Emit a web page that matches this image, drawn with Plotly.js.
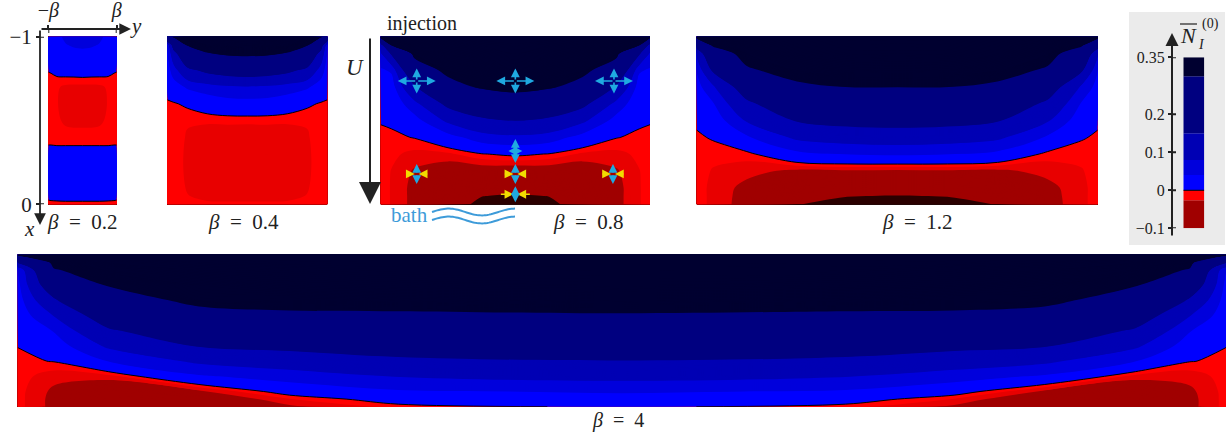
<!DOCTYPE html>
<html><head><meta charset="utf-8">
<script src="https://cdn.plot.ly/plotly-3.0.1.min.js"></script>
<style>html,body{margin:0;padding:0;background:#fff}#chart{width:1228px;height:434px}</style>
</head><body><div id="chart"></div>
<script>
// ---------------- DATA ----------------
// depth rows x (top = -1 injection, bottom = 0 bath)
const rowsX = [-1, -0.95, -0.9, -0.8, -0.7, -0.6, -0.5, -0.4, -0.3, -0.2, -0.1, -0.05, 0];

// transverse coordinate y of each panel (from -beta to beta)
const yB02 = [-0.2, -0.184, -0.15, -0.1, -0.05, 0, 0.05, 0.1, 0.15, 0.184, 0.2];
const yB04 = [-0.4, -0.368, -0.3, -0.2, -0.1, 0, 0.1, 0.2, 0.3, 0.368, 0.4];
const yB08 = [-0.8, -0.736, -0.6, -0.4, -0.2, 0, 0.2, 0.4, 0.6, 0.736, 0.8];
const yB12 = [-1.2, -1.104, -0.9, -0.6, -0.3, 0, 0.3, 0.6, 0.9, 1.104, 1.2];
const yB4  = [-4, -3.76, -3.4, -2.8, -2.2, -1.48, 0, 1.48, 2.2, 2.8, 3.4, 3.76, 4];

// N_I^(0) estimated on each grid (rows = rowsX, columns = y)
const zB02 = [
 [0.025,0.03,0.036,0.043,0.046,0.047,0.046,0.043,0.036,0.03,0.025],
 [0.022,0.027,0.033,0.039,0.042,0.043,0.042,0.039,0.033,0.027,0.022],
 [0.017,0.021,0.027,0.032,0.035,0.036,0.035,0.032,0.027,0.021,0.017],
 [0.001,0.002,0.006,0.01,0.011,0.012,0.011,0.01,0.006,0.002,0.001],
 [-0.008,-0.009,-0.01,-0.015,-0.016,-0.016,-0.016,-0.015,-0.01,-0.009,-0.008],
 [-0.01,-0.0105,-0.011,-0.018,-0.02,-0.02,-0.02,-0.018,-0.011,-0.0105,-0.01],
 [-0.009,-0.01,-0.01,-0.014,-0.015,-0.015,-0.015,-0.014,-0.01,-0.01,-0.009],
 [-0.006,-0.006,-0.007,-0.008,-0.008,-0.008,-0.008,-0.008,-0.007,-0.006,-0.006],
 [0.007,0.007,0.007,0.008,0.008,0.008,0.008,0.008,0.007,0.007,0.007],
 [0.016,0.017,0.018,0.019,0.02,0.02,0.02,0.019,0.018,0.017,0.016],
 [0.011,0.012,0.013,0.014,0.015,0.015,0.015,0.014,0.013,0.012,0.011],
 [0.004,0.005,0.006,0.007,0.007,0.007,0.007,0.007,0.006,0.005,0.004],
 [-0.004,-0.004,-0.004,-0.004,-0.004,-0.004,-0.004,-0.004,-0.004,-0.004,-0.004]
];
const zB04 = [
 [0.29,0.31,0.35,0.36,0.37,0.37,0.37,0.36,0.35,0.31,0.29],
 [0.045,0.2,0.305,0.345,0.355,0.36,0.355,0.345,0.305,0.2,0.045],
 [0.035,0.12,0.25,0.295,0.315,0.32,0.315,0.295,0.25,0.12,0.035],
 [0.022,0.06,0.13,0.17,0.19,0.2,0.19,0.17,0.13,0.06,0.022],
 [0.01,0.022,0.045,0.06,0.072,0.076,0.072,0.06,0.045,0.022,0.01],
 [-0.003,-0.002,0.004,0.015,0.023,0.025,0.023,0.015,0.004,-0.002,-0.003],
 [-0.004,-0.006,-0.011,-0.01,-0.009,-0.009,-0.009,-0.01,-0.011,-0.006,-0.004],
 [-0.005,-0.007,-0.013,-0.019,-0.021,-0.022,-0.021,-0.019,-0.013,-0.007,-0.005],
 [-0.005,-0.007,-0.014,-0.02,-0.022,-0.022,-0.022,-0.02,-0.014,-0.007,-0.005],
 [-0.005,-0.007,-0.014,-0.02,-0.021,-0.021,-0.021,-0.02,-0.014,-0.007,-0.005],
 [-0.005,-0.006,-0.013,-0.018,-0.019,-0.019,-0.019,-0.018,-0.013,-0.006,-0.005],
 [-0.005,-0.006,-0.0115,-0.015,-0.016,-0.016,-0.016,-0.015,-0.0115,-0.006,-0.005],
 [-0.004,-0.005,-0.008,-0.01,-0.01,-0.01,-0.01,-0.01,-0.008,-0.005,-0.004]
];
const zB08 = [
 [0.33,0.33,0.34,0.36,0.37,0.37,0.37,0.36,0.34,0.33,0.33],
 [0.12,0.305,0.33,0.35,0.36,0.365,0.36,0.35,0.33,0.305,0.12],
 [0.075,0.16,0.32,0.34,0.35,0.36,0.35,0.34,0.32,0.16,0.075],
 [0.035,0.045,0.25,0.32,0.33,0.35,0.33,0.32,0.25,0.045,0.035],
 [0.02,0.022,0.14,0.27,0.31,0.33,0.31,0.27,0.14,0.022,0.02],
 [0.01,0.012,0.065,0.17,0.22,0.24,0.22,0.17,0.065,0.012,0.01],
 [0.001,0.004,0.025,0.09,0.135,0.151,0.135,0.09,0.025,0.004,0.001],
 [-0.003,-0.004,0.001,0.025,0.06,0.07,0.06,0.025,0.001,-0.004,-0.003],
 [-0.005,-0.009,-0.016,-0.015,-0.001,0.005,-0.001,-0.015,-0.016,-0.009,-0.005],
 [-0.006,-0.0125,-0.028,-0.04,-0.038,-0.04,-0.038,-0.04,-0.028,-0.0125,-0.006],
 [-0.006,-0.013,-0.032,-0.065,-0.077,-0.08,-0.077,-0.065,-0.032,-0.013,-0.006],
 [-0.006,-0.013,-0.032,-0.075,-0.099,-0.105,-0.099,-0.075,-0.032,-0.013,-0.006],
 [-0.006,-0.013,-0.032,-0.08,-0.11,-0.115,-0.11,-0.08,-0.032,-0.013,-0.006]
];
const zB12 = [
 [0.33,0.33,0.35,0.36,0.37,0.37,0.37,0.36,0.35,0.33,0.33],
 [0.2,0.31,0.34,0.355,0.365,0.365,0.365,0.355,0.34,0.31,0.2],
 [0.09,0.25,0.33,0.35,0.36,0.36,0.36,0.35,0.33,0.25,0.09],
 [0.042,0.16,0.29,0.33,0.34,0.34,0.34,0.33,0.29,0.16,0.042],
 [0.026,0.07,0.2,0.285,0.301,0.301,0.301,0.285,0.2,0.07,0.026],
 [0.016,0.036,0.135,0.215,0.235,0.24,0.235,0.215,0.135,0.036,0.016],
 [0.004,0.015,0.085,0.155,0.175,0.18,0.175,0.155,0.085,0.015,0.004],
 [-0.003,0.002,0.035,0.09,0.105,0.11,0.105,0.09,0.035,0.002,-0.003],
 [-0.004,-0.008,-0.006,0.03,0.041,0.045,0.041,0.03,-0.006,-0.008,-0.004],
 [-0.006,-0.013,-0.02,-0.03,-0.028,-0.03,-0.028,-0.03,-0.02,-0.013,-0.006],
 [-0.007,-0.015,-0.032,-0.075,-0.078,-0.08,-0.078,-0.075,-0.032,-0.015,-0.007],
 [-0.007,-0.015,-0.034,-0.092,-0.099,-0.101,-0.099,-0.092,-0.034,-0.015,-0.007],
 [-0.007,-0.015,-0.035,-0.099,-0.108,-0.11,-0.108,-0.099,-0.035,-0.015,-0.007]
];
const zB4 = [
 [0.32,0.34,0.36,0.365,0.37,0.37,0.37,0.37,0.37,0.365,0.36,0.34,0.32],
 [0.16,0.32,0.35,0.36,0.365,0.365,0.365,0.365,0.365,0.36,0.35,0.32,0.16],
 [0.036,0.295,0.335,0.35,0.355,0.36,0.36,0.36,0.355,0.35,0.335,0.295,0.036],
 [0.028,0.22,0.305,0.33,0.34,0.345,0.35,0.345,0.34,0.33,0.305,0.22,0.028],
 [0.022,0.14,0.26,0.32,0.32,0.325,0.33,0.325,0.32,0.32,0.26,0.14,0.022],
 [0.016,0.082,0.2,0.27,0.29,0.29,0.295,0.29,0.29,0.27,0.2,0.082,0.016],
 [0.01,0.042,0.14,0.21,0.23,0.245,0.25,0.245,0.23,0.21,0.14,0.042,0.01],
 [0.0005,0.02,0.088,0.155,0.17,0.19,0.2,0.19,0.17,0.155,0.088,0.02,0.0005],
 [-0.004,0.001,0.041,0.09,0.11,0.135,0.148,0.135,0.11,0.09,0.041,0.001,-0.004],
 [-0.006,-0.02,-0.018,0.035,0.058,0.082,0.095,0.082,0.058,0.035,-0.018,-0.02,-0.006],
 [-0.007,-0.03,-0.05,-0.03,0.012,0.035,0.045,0.035,0.012,-0.03,-0.05,-0.03,-0.007],
 [-0.007,-0.032,-0.058,-0.05,-0.013,0.012,0.022,0.012,-0.013,-0.05,-0.058,-0.032,-0.007],
 [-0.007,-0.032,-0.06,-0.06,-0.03,-0.006,0.003,-0.006,-0.03,-0.06,-0.06,-0.032,-0.007]
];

// contour levels and fill colours
const levelEdges = [-0.1, -0.026, -0.012, 0, 0.04, 0.08, 0.15, 0.3];
const bandColors = ['#2b0000','#a00000','#e80000','#ff0000','#0000ff','#0000dc','#0000b4','#000080','#000030'];

// colour bar
const cbEdges  = [-0.1, -0.026, 0, 0.04, 0.08, 0.15, 0.3, 0.35];
const cbColors = ['#a00000','#ff0000','#0000ff','#0000dc','#0000b4','#000080','#000030'];
const cbTicks  = [-0.1, 0, 0.1, 0.2, 0.35];
const cbTickText = ['\u22120.1','0','0.1','0.2','0.35'];

const betaLabels = ['0.2','0.4','0.8','1.2','4'];

// ---------------- LAYOUT HELPERS ----------------
const W = 1228, H = 434;
const px = v => v / W, py = v => 1 - v / H;
const FONT = '"Liberation Serif", "Times New Roman", Times, serif';
const INK = '#222';

const C0 = -0.2, C1 = 0.4, CS = 0.002;
const NC = Math.floor((C1 + CS * 1e-6 - C0) / CS) + 1;
const zLo = C0 - CS, zHi = zLo + NC * CS;
const frac = z => Math.min(1, Math.max(0, (z - zLo) / (zHi - zLo)));
const colorscale = [];
for (let i = 0; i < bandColors.length; i++) {
  const lo = i === 0 ? zLo : levelEdges[i - 1];
  const hi = i === bandColors.length - 1 ? zHi : levelEdges[i];
  colorscale.push([i === 0 ? 0 : frac(lo), bandColors[i]]);
  colorscale.push([i === bandColors.length - 1 ? 1 : frac(hi), bandColors[i]]);
}

const panels = [
  {y: yB02, z: zB02, beta: 0.2, xd: [48.3, 116.7], yd: [36.7, 204.3]},
  {y: yB04, z: zB04, beta: 0.4, xd: [167.3, 327.3], yd: [36.7, 204.3]},
  {y: yB08, z: zB08, beta: 0.8, xd: [380.7, 650], yd: [36.7, 204.3]},
  {y: yB12, z: zB12, beta: 1.2, xd: [696.7, 1097.7], yd: [36.7, 204.3]},
  {y: yB4,  z: zB4,  beta: 4,   xd: [17.7, 1226], yd: [254.7, 406.7]}
];

const data = [];
const layout = {
  width: W, height: H, margin: {l: 0, r: 0, t: 0, b: 0},
  paper_bgcolor: '#fff', plot_bgcolor: 'rgba(0,0,0,0)',
  showlegend: false, barmode: 'overlay',
  shapes: [], annotations: []
};

panels.forEach((p, i) => {
  const n = i === 0 ? '' : String(i + 1);
  const xa = 'x' + n, ya = 'y' + n;
  data.push({
    type: 'contour', x: p.y, y: rowsX, z: p.z, xaxis: xa, yaxis: ya,
    autocontour: false, contours: {start: C0, end: C1, size: CS, coloring: 'fill', showlines: false},
    colorscale: colorscale, showscale: false, line: {width: 0, smoothing: 1}, hoverinfo: 'skip'
  });
  data.push({
    type: 'contour', x: p.y, y: rowsX, z: p.z, xaxis: xa, yaxis: ya,
    autocontour: false, contours: {start: 0, end: 0, size: 1, coloring: 'none'},
    showscale: false, line: {color: '#000', width: 1, smoothing: 1}, hoverinfo: 'skip'
  });
  const xaxis = {domain: [px(p.xd[0]), px(p.xd[1])], range: [-p.beta, p.beta], anchor: ya,
    showgrid: false, zeroline: false, showline: false, showticklabels: false, ticks: '', fixedrange: true};
  const yaxis = {domain: [py(p.yd[1]), py(p.yd[0])], range: [0, -1], anchor: xa,
    showgrid: false, zeroline: false, showline: false, showticklabels: false, ticks: '', fixedrange: true};
  if (i === 0) {
    Object.assign(xaxis, {anchor: 'free', position: py(29), side: 'top', showticklabels: true,
      ticks: 'outside', ticklen: 4, tickwidth: 2, tickcolor: INK,
      tickvals: [-p.beta, p.beta], ticktext: ['\u2212<i>\u03b2</i>', '<i>\u03b2</i>'],
      tickfont: {family: FONT, size: 20, color: INK}});
    Object.assign(yaxis, {anchor: 'free', position: px(40), side: 'left', showticklabels: true,
      ticks: 'outside', ticklen: 4, tickwidth: 2, tickcolor: INK,
      tickvals: [-1, 0], ticktext: ['\u22121', '0'],
      tickfont: {family: FONT, size: 21, color: INK}});
  }
  layout['xaxis' + n] = xaxis;
  layout['yaxis' + n] = yaxis;
});

// colour bar as stacked bars
data.push({
  type: 'bar', xaxis: 'x6', yaxis: 'y6',
  x: cbColors.map(() => 0), base: cbEdges.slice(0, -1),
  y: cbEdges.slice(1).map((e, i) => e - cbEdges[i]),
  width: 1, marker: {color: cbColors, line: {width: 0}}, hoverinfo: 'skip'
});
layout.xaxis6 = {domain: [px(1183.3), px(1204.3)], range: [-0.5, 0.5], anchor: 'y6', visible: false, fixedrange: true};
layout.yaxis6 = {domain: [py(228.3), py(57.3)], range: [-0.1, 0.35], anchor: 'free', position: px(1172), side: 'left',
  showgrid: false, zeroline: false, showline: false, ticks: 'outside', ticklen: 4, tickwidth: 2, tickcolor: INK,
  tickvals: cbTicks, ticktext: cbTickText, tickfont: {family: FONT, size: 16, color: INK}, fixedrange: true};

// ---------------- DECORATIONS ----------------
const S = layout.shapes, A = layout.annotations;
S.push({type: 'rect', xref: 'paper', yref: 'paper', x0: px(1129), x1: px(1225), y0: py(245), y1: py(12),
  fillcolor: '#ebebeb', line: {width: 0}, layer: 'below'});
S.push({type: 'line', xref: 'x6', yref: 'y6', x0: -0.5, x1: 0.5, y0: 0, y1: 0, line: {color: '#000', width: 1}});
cbTicks.forEach(v => S.push({type: 'line', xref: 'paper', yref: 'y6', x0: px(1172), x1: px(1176), y0: v, y1: v,
  line: {color: INK, width: 2}}));
[-1, 0].forEach(v => S.push({type: 'line', xref: 'paper', yref: 'y', x0: px(40), x1: px(44), y0: v, y1: v, line: {color: INK, width: 2}}));
[-0.2, 0.2].forEach(v => S.push({type: 'line', xref: 'x', yref: 'paper', x0: v, x1: v, y0: py(29), y1: py(33), line: {color: INK, width: 2}}));
// overline of N
S.push({type: 'line', xref: 'paper', yref: 'paper', x0: px(1180), x1: px(1197), y0: py(24), y1: py(24), line: {color: INK, width: 1.2}});
// bath waves
function wave(x0, x1, yc, amp, periods) {
  let d = '';
  for (let i = 0; i <= 48; i++) {
    const t = i / 48;
    d += (i ? 'L' : 'M') + px(x0 + (x1 - x0) * t).toFixed(5) + ',' + py(yc - amp * Math.sin(2 * Math.PI * periods * t)).toFixed(5);
  }
  return d;
}
[212, 220].forEach(yc => S.push({type: 'path', xref: 'paper', yref: 'paper', path: wave(432, 515, yc, 3.4, 1.25),
  line: {color: '#3d9bd9', width: 2}}));

function txt(text, x, y, size, extra) {
  A.push(Object.assign({text: text, xref: 'paper', yref: 'paper', x: px(x), y: py(y), showarrow: false,
    xanchor: 'center', yanchor: 'middle', font: {family: FONT, size: size, color: INK}}, extra || {}));
}
function arrow(xt, yt, dx, dy, color, w, s, head) {
  A.push({text: '', xref: 'paper', yref: 'paper', x: px(xt), y: py(yt), ax: dx, ay: dy, axref: 'pixel', ayref: 'pixel',
    showarrow: true, arrowhead: head || 2, arrowsize: s, arrowwidth: w, arrowcolor: color, standoff: 0, startstandoff: 0});
}
// beta labels
const labelPos = [[82.5, 222], [243, 222], [588, 222], [917, 222], [618.5, 420]];
betaLabels.forEach((b, i) => txt('<i>\u03b2</i>\u2002=\u2002' + b, labelPos[i][0], labelPos[i][1], i === 4 ? 20 : 21));
txt('injection', 422, 24, 20);
txt('<i>U</i>', 355, 67, 23);
txt('bath', 409, 215, 21, {font: {family: FONT, size: 21, color: '#3d9bd9'}});
txt('<i>y</i>', 136, 26, 21);
txt('<i>x</i>', 29, 229, 21);
txt('<i>N</i>', 1188, 36, 22);
txt('(0)', 1210, 24, 14);
txt('<i>I</i>', 1201, 45, 14);
// axis arrows
arrow(40, 225, 0, -196, INK, 1.8, 1.3);
arrow(131, 29, -91, 0, INK, 1.8, 1.3);
arrow(370, 204, 0, -167, INK, 2, 2.2);
arrow(1172, 33, 0, 204, INK, 2, 1.3);

// flow markers in the beta = 0.8 panel (data coordinates of that panel)
const crossMarks = [[-0.586, -0.736, 19, 12.5], [0, -0.736, 19, 12.5], [0.586, -0.736, 19, 12.5], [0, -0.318, 7, 12]];
const squeezeMarks = [[-0.586, -0.181, 12, 10], [0, -0.181, 12, 10], [0.58, -0.181, 12, 10], [0, -0.06, 16, 8]];
const CY = '#1fa9e1', YE = '#f2dc00';
function arm(x, y, xs, ys, ax, ay, color) {
  A.push({text: '', xref: 'x3', yref: 'y3', x: x, y: y, xshift: xs, yshift: ys, ax: ax, ay: ay,
    showarrow: true, arrowhead: 2, arrowsize: 1.1, arrowwidth: 1.6, arrowcolor: color, standoff: 0});
}
crossMarks.forEach(([x, y, hx, hy]) => {
  arm(x, y, hx, 0, -hx, 0, CY); arm(x, y, -hx, 0, hx, 0, CY);
  arm(x, y, 0, hy, 0, hy, CY); arm(x, y, 0, -hy, 0, -hy, CY);
});
squeezeMarks.forEach(([x, y, hx, hy]) => {
  arm(x, y, -2, 0, -(hx - 2), 0, YE); arm(x, y, 2, 0, hx - 2, 0, YE);
  arm(x, y, 0, hy, 0, hy, CY); arm(x, y, 0, -hy, 0, -hy, CY);
});

Plotly.newPlot('chart', data, layout, {staticPlot: true, displayModeBar: false});
</script>
</body></html>
